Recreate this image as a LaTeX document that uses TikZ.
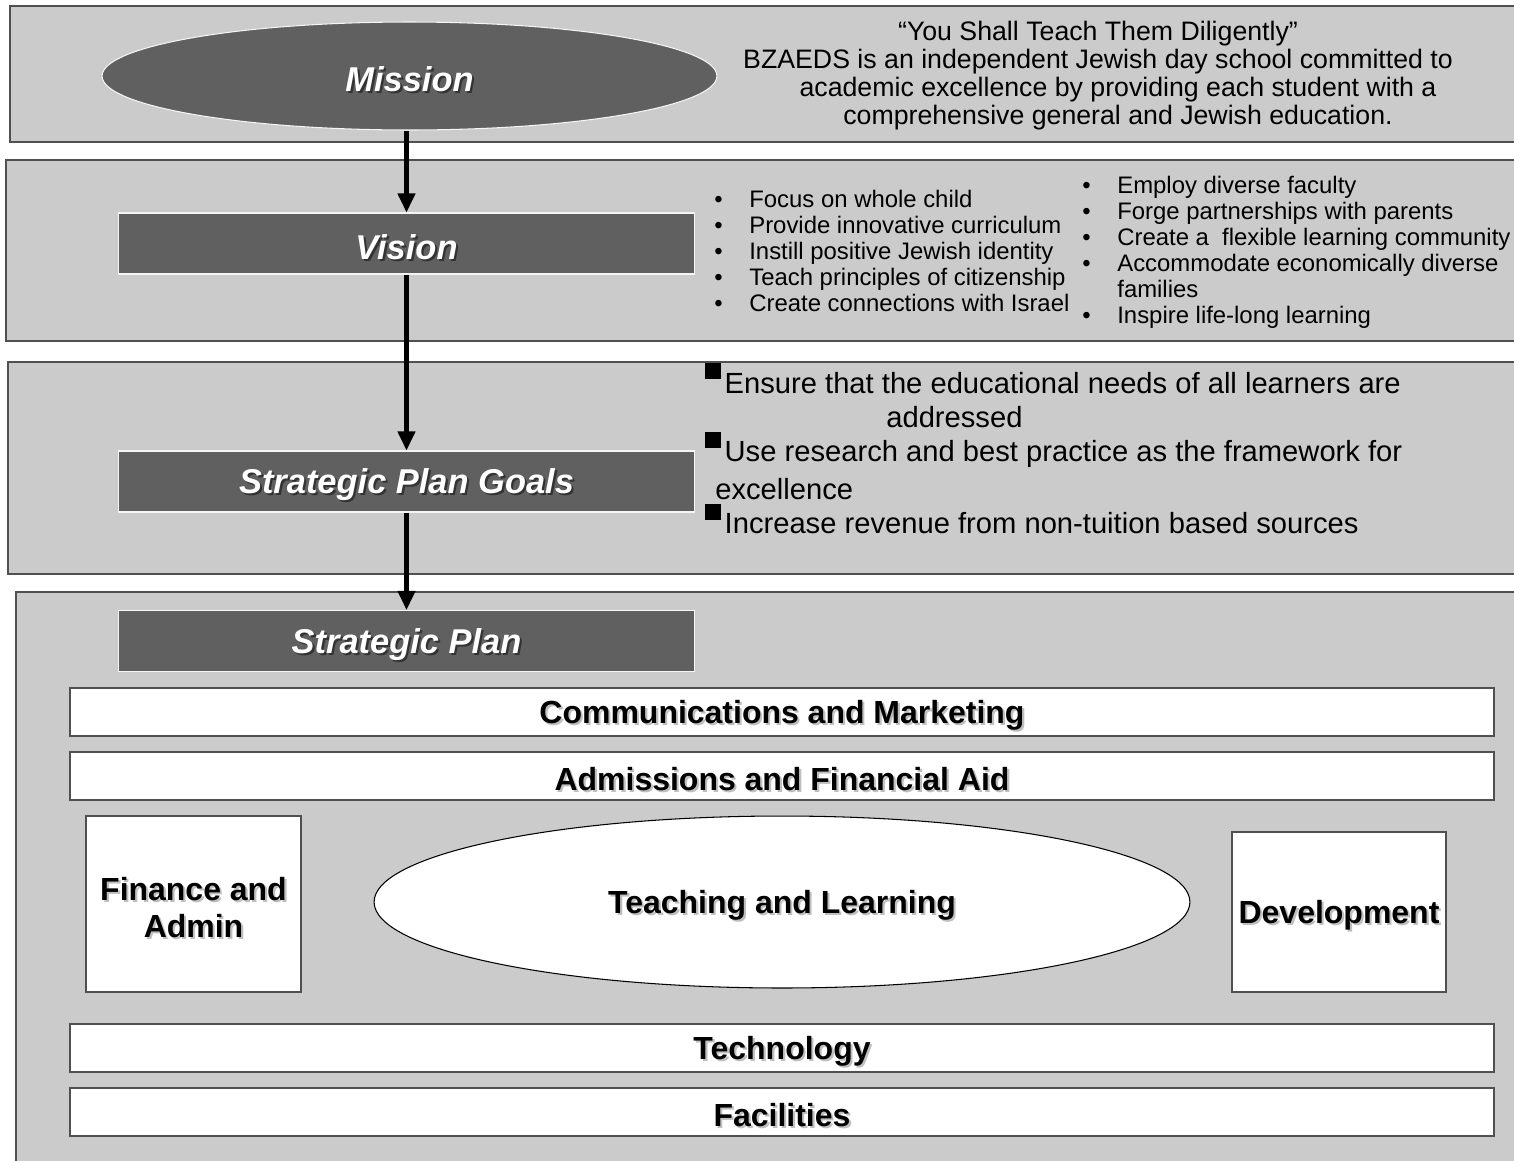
\documentclass[tikz,border=0pt]{standalone}
\usepackage{fontspec}
\setmainfont{Liberation Sans}
\usepackage{tikz}
\usetikzlibrary{arrows.meta,shapes.geometric,positioning}
\definecolor{cinza}{HTML}{CBCBCB}
\definecolor{escuro}{HTML}{606060}
\definecolor{traco}{HTML}{505050}
\tikzset{
  faixa/.style={draw=traco, fill=cinza, line width=0.8pt},
  titulo/.style={rectangle, draw=white!80!cinza, fill=escuro, line width=0.6pt, text=white,
    minimum width=11.54cm, minimum height=1.22cm, inner sep=0pt,
    font=\fontsize{19.6}{23}\selectfont\bfseries\itshape},
  missao/.style={titulo, ellipse, minimum width=12.3cm, minimum height=2.16cm},
  barra/.style={rectangle, draw=traco, fill=white, line width=0.8pt, minimum width=28.48cm,
    minimum height=0.96cm, inner sep=0pt, font=\fontsize{18.2}{21}\selectfont\bfseries},
  caixa/.style={barra, align=center},
  seta/.style={-{Triangle[length=3.8mm,width=3.4mm]}, line width=2.3pt},
  texto/.style={inner sep=0pt},
}
% texto com sombra, um pouco abaixo do centro da caixa
\newcommand{\sombra}[2]{\raisebox{-2.5pt}[\height][\depth]{%
  \makebox[0pt][l]{\hspace{1.2pt}\raisebox{-1.2pt}{\textcolor{#1}{#2}}}#2}}
\newcommand{\sombraescura}[1]{\sombra{black!80}{#1}}
\newcommand{\sombraclara}[1]{\sombra{gray!50}{#1}}
\newcommand{\marca}{\makebox[0.7cm][l]{\textbullet}}
\newcommand{\quadrado}{\raisebox{8pt}{\rule{9pt}{9pt}}\hspace{2pt}}

\begin{document}
\begin{tikzpicture}[x=0.02cm, y=-0.02cm]
  \useasboundingbox (0,0) rectangle (1514,1160);
  \fill[white] (0,0) rectangle (1514,1160);
  % faixas de fundo
  \draw[faixa] (10,6) rectangle (1530,142);
  \draw[faixa] (6,160) rectangle (1530,341);
  \draw[faixa] (8,362) rectangle (1530,574);
  \draw[faixa] (16,592) rectangle (1530,1180);

  \node[missao] (missao) at (409.5,76) {\sombraescura{Mission}};
  \node[titulo] (visao) at (406.5,243.5) {\sombraescura{Vision}};
  \node[titulo] (metas) at (406.5,481.5) {\sombraescura{Strategic Plan Goals}};
  \node[titulo] (plano) at (406.5,641) {\sombraescura{Strategic Plan}};

  \draw[seta] (visao.north |- missao.south) -- (visao.north);
  \draw[seta] (visao.south) -- (metas.north);
  \draw[seta] (metas.south) -- (plano.north);

  % textos da direita
  \node[texto, anchor=north, align=center, font=\fontsize{15.2}{15.9}\selectfont] (lema) at (1098,21)
    {“You Shall Teach Them Diligently”\\
     BZAEDS is an independent Jewish day school committed to\\
     \hspace*{0.8cm}academic excellence by providing each student with a\\
     \hspace*{0.8cm}comprehensive general and Jewish education.};
  \node[texto, anchor=north west, align=left, font=\fontsize{13.6}{14.8}\selectfont] (visao-esq) at (714,190)
    {\marca Focus on whole child\\
     \marca Provide innovative curriculum\\
     \marca Instill positive Jewish identity\\
     \marca Teach principles of citizenship\\
     \marca Create connections with Israel};
  \node[texto, anchor=north west, align=left, font=\fontsize{13.6}{14.8}\selectfont] (visao-dir) at (1082,176)
    {\marca Employ diverse faculty\\
     \marca Forge partnerships with parents\\
     \marca Create a\ \ flexible learning community\\
     \marca Accommodate economically diverse\\
     \hspace*{0.7cm}families\\
     \marca Inspire life-long learning};
  \node[texto, anchor=north west, align=left, font=\fontsize{16.6}{19.5}\selectfont] (metas-lista) at (705,363)
    {\quadrado Ensure that the educational needs of all learners are\\
     \hspace*{3.62cm}addressed\\
     \quadrado Use research and best practice as the framework for\\[2pt]
     \hspace*{0.2cm}excellence\\
     \quadrado Increase revenue from non-tuition based sources};

  % areas do plano
  \node[barra] (comunic) at (782,712) {\sombraclara{Communications and Marketing}};
  \node[barra] (admiss) at (782,776) {\sombraclara{Admissions and Financial Aid}};
  \node[caixa, minimum width=4.3cm, minimum height=3.52cm] (financas) at (193.5,904)
    {\sombraclara{Finance and}\\\sombraclara{Admin}};
  \node[barra, ellipse, draw=black, line width=0.6pt, minimum width=16.32cm, minimum height=3.44cm] (ensino) at (782,902)
    {\sombraclara{Teaching and Learning}};
  \node[caixa, minimum width=4.28cm, minimum height=3.2cm] (desenv) at (1339,912) {\sombraclara{Development}};
  \node[barra] (tecno) at (782,1048) {\sombraclara{Technology}};
  \node[barra] (instal) at (782,1112) {\sombraclara{Facilities}};
\end{tikzpicture}
\end{document}
